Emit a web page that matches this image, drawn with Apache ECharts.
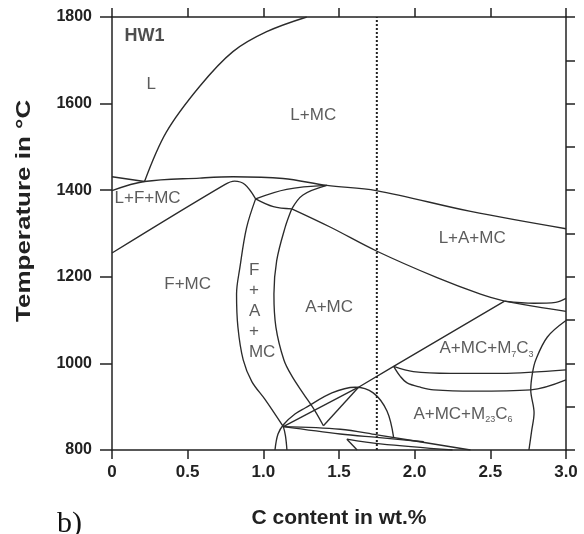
<!DOCTYPE html>
<html><head><meta charset="utf-8">
<script src="https://cdn.jsdelivr.net/npm/echarts@6/dist/echarts.min.js"></script>
<style>html,body{margin:0;padding:0;background:#fff}#c{width:584px;height:534px}</style>
</head><body><div id="c"></div>
<script>
// Axis ticks
const xTicks = [0, 0.5, 1.0, 1.5, 2.0, 2.5, 3.0];
const yTicks = [800, 1000, 1200, 1400, 1600, 1800];
const alloyC = 1.75; // dotted vertical line (wt.% C)

// Phase boundaries [C wt.%, T °C]
const liquidus = [[0.215,1420],[0.359,1534],[0.58,1640],[0.799,1720],[1.022,1766],[1.287,1800]];
const domeLine = [[0,1399],[0.215,1420],[0.58,1428],[0.8,1431],[1.13,1427],[1.42,1411],[1.746,1399],[2.37,1351],[3.0,1311]];
const leftCap = [[0,1431],[0.215,1420]];
const ferriteLine = [[0,1255],[0.745,1413],[0.81,1421],[0.878,1413],[0.949,1380]];
const upperBranch = [[0.949,1380],[1.154,1402],[1.42,1411]];
const lowerBranch = [[0.949,1380],[1.066,1362],[1.188,1357]];
const tripleLink = [[1.188,1357],[1.262,1389],[1.42,1411]];
const lamcLower = [[1.188,1357],[1.441,1315],[1.751,1259],[2.148,1198],[2.435,1160],[2.594,1144]];
const faLeft = [[0.949,1380],[0.889,1313],[0.845,1221],[0.823,1160],[0.832,1084],[0.867,1008],[0.924,958],[1.011,917],[1.132,854]];
const faRight = [[1.188,1357],[1.143,1313],[1.088,1237],[1.070,1160],[1.083,1084],[1.136,1008],[1.190,970],[1.263,931],[1.342,890],[1.397,856]];
const amcLower = [[2.594,1144],[1.861,993],[1.629,945]];
const rightUpper = [[2.594,1144],[2.787,1139],[2.932,1141],[3.0,1150]];
const rightLower = [[2.594,1144],[2.8,1131],[3.0,1120]];
const m7Upper = [[1.861,993],[1.991,981],[2.237,977],[2.568,977],[3.0,985]];
const m7Lower = [[1.861,993],[1.905,970],[1.95,955],[2.038,945],[2.126,939],[2.391,936],[2.767,939],[3.0,962]];
const rightCurve = [[3.0,1099],[2.877,1061],[2.8,1008],[2.778,977],[2.767,939],[2.789,886],[2.773,844],[2.755,800]];
const dToQ = [[1.132,854],[1.629,945]];
const pToQ = [[1.397,856],[1.629,945]];
const clusterA = [[1.132,854],[1.508,848],[1.751,835],[2.369,800]];
const clusterB = [[1.132,854],[1.508,837],[1.751,829],[2.06,819]];
const clusterC = [[1.552,825],[1.62,800]];
const clusterE = [[1.552,825],[1.773,814],[2.25,800]];
const bigArc = [[1.077,800],[1.097,837],[1.137,860],[1.209,883],[1.276,897],[1.453,932],[1.607,945],[1.726,932],[1.817,890],[1.861,829]];
const smallLeg = [[1.156,800],[1.146,833],[1.132,854]];

// Region labels [C, T, text]
const regionLabels = [
  [0.26,1644,'L'],
  [1.33,1573,'L+MC'],
  [0.235,1381,'L+F+MC'],
  [2.38,1290,'L+A+MC'],
  [0.5,1182,'F+MC'],
  [1.435,1130,'A+MC'],
  [2.475,1034,'{a|A+MC+M}{s|7}{a|C}{s|3}'],
  [2.319,882,'{a|A+MC+M}{s|23}{a|C}{s|6}']
];
const faLabel = [[0.905,1121,'F\n+\nA\n+\nMC']];
const titleLabel = [[0.083,1757,'HW1']];

const smoothCurves = [liquidus, domeLine, ferriteLine, upperBranch, lowerBranch, tripleLink, lamcLower, faLeft, faRight, rightUpper, rightLower, m7Upper, m7Lower, rightCurve, clusterA, clusterB, clusterE, bigArc, smallLeg];
const straightLines = [leftCap, amcLower, dToQ, pToQ, clusterC];

const LC = '#2b2b2b';
const series = [];
smoothCurves.forEach(d => series.push({type:'line', data:d, smooth:0.35, showSymbol:false, silent:true, lineStyle:{color:LC, width:1.35}}));
straightLines.forEach(d => series.push({type:'line', data:d, showSymbol:false, silent:true, lineStyle:{color:LC, width:1.35}}));
series.push({type:'line', data:[[alloyC,800],[alloyC,1800]], showSymbol:false, silent:true, lineStyle:{color:'#222', width:2, type:[2,2]}});
const FF = 'Liberation Sans, Arial, Helvetica, sans-serif';
series.push({type:'scatter', data:regionLabels, symbolSize:0, silent:true,
  label:{show:true, position:'inside', formatter:p=>p.data[2], color:'#333', fontFamily:FF, fontSize:17,
    rich:{a:{fontSize:17, fontFamily:FF, color:'#333', lineHeight:20}, s:{fontSize:9, fontFamily:FF, color:'#333', lineHeight:6, verticalAlign:'bottom'}}}});
series.push({type:'scatter', data:faLabel, symbolSize:0, silent:true,
  label:{show:true, position:'right', distance:0, align:'left', formatter:p=>p.data[2], color:'#333', fontFamily:FF, fontSize:17, lineHeight:20.5}});
series.push({type:'scatter', data:titleLabel, symbolSize:0, silent:true,
  label:{show:true, position:'right', distance:0, formatter:p=>p.data[2], color:'#222', fontFamily:FF, fontSize:18, fontWeight:'bold'}});

const axisLine = {show:true, onZero:false, lineStyle:{color:'#222', width:1.5}};
const chart = echarts.init(document.getElementById('c'), null, {renderer:'canvas'});
chart.setOption({
  animation:false,
  grid:{left:112, right:18, top:17, bottom:80, containLabel:false},
  xAxis:[
    {type:'value', position:'bottom', min:0, max:3, interval:0.5, axisLine, splitLine:{show:false},
     axisTick:{show:true, inside:false, length:9, lineStyle:{color:'#222', width:1.5}},
     axisLabel:{show:true, margin:14, color:'#222', fontFamily:FF, fontWeight:'bold', fontSize:17,
       formatter:v=>{const t=xTicks.find(k=>Math.abs(k-v)<1e-9); return t===0?'0':t.toFixed(1);}},
     name:'C content in wt.%', nameLocation:'middle', nameGap:58,
     nameTextStyle:{color:'#222', fontFamily:FF, fontWeight:'bold', fontSize:21}},
    {type:'value', position:'top', min:0, max:3, interval:0.5, axisLine, splitLine:{show:false},
     axisTick:{show:true, inside:false, length:9, lineStyle:{color:'#222', width:1.5}}, axisLabel:{show:false}}
  ],
  yAxis:[
    {type:'value', position:'left', min:800, max:1800, interval:200, axisLine, splitLine:{show:false},
     axisTick:{show:true, inside:false, length:12, lineStyle:{color:'#222', width:1.5}},
     axisLabel:{show:true, margin:20, color:'#222', fontFamily:FF, fontWeight:'bold', fontSize:16,
       formatter:v=>String(yTicks.find(k=>k===v))}},
    {type:'value', position:'right', min:800, max:1800, interval:100, axisLine, splitLine:{show:false},
     axisTick:{show:true, inside:false, length:9, lineStyle:{color:'#222', width:1.5}}, axisLabel:{show:false}}
  ],
  graphic:[
    {type:'text', x:14, y:322, rotation:Math.PI/2, scaleX:1.3, style:{text:'Temperature in °C', fill:'#222', font:'bold 20px '+FF, textAlign:'left', textVerticalAlign:'top'}},
    {type:'text', left:57, top:509, style:{text:'b)', fill:'#111', font:'30px "Liberation Serif", "DejaVu Serif", serif'}}
  ],
  series
});
</script></body></html>
